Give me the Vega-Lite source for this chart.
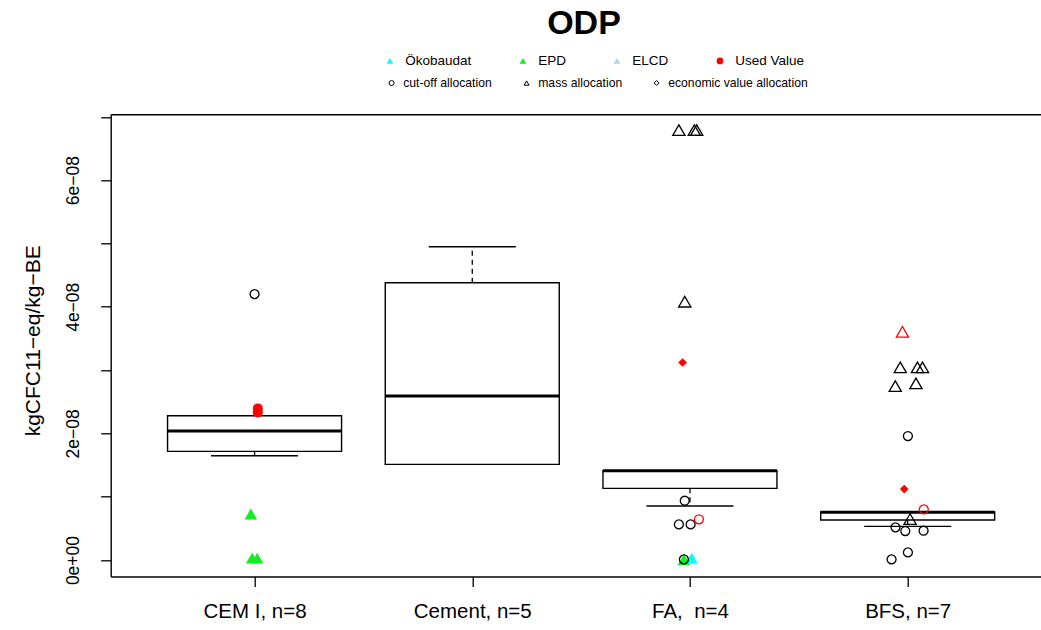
{
  "$schema": "https://vega.github.io/schema/vega-lite/v6.json",
  "width": 930.3,
  "height": 462.2,
  "autosize": {"type": "none"},
  "padding": {"left": 110.7, "top": 114.3, "right": 0, "bottom": 53.5},
  "background": "white",
  "config": {"font": "Liberation Sans", "view": {"stroke": null}},
  "datasets": {
    "boxes": [
      {"cat": "CEM I, n=8", "lower": 1.647e-8, "q1": 1.716e-8, "median": 2.037e-8, "q3": 2.278e-8, "upper": 2.278e-8},
      {"cat": "Cement, n=5", "lower": 1.511e-8, "q1": 1.511e-8, "median": 2.59e-8, "q3": 4.379e-8, "upper": 4.947e-8},
      {"cat": "FA,\u00a0 n=4", "lower": 0.853e-8, "q1": 1.132e-8, "median": 1.41e-8, "q3": 1.41e-8, "upper": 1.41e-8},
      {"cat": "BFS, n=7", "lower": 0.532e-8, "q1": 0.632e-8, "median": 0.755e-8, "q3": 0.758e-8, "upper": 0.758e-8}
    ],
    "pts": [
      {"cat": "CEM I, n=8", "value": 4.2e-8, "jitter": 0.0, "allocation": "cut-off allocation", "source": "none"},
      {"cat": "CEM I, n=8", "value": 2.395e-8, "jitter": 0.015, "allocation": "none", "source": "Used Value"},
      {"cat": "CEM I, n=8", "value": 2.33e-8, "jitter": 0.015, "allocation": "none", "source": "Used Value"},
      {"cat": "CEM I, n=8", "value": 0.726e-8, "jitter": -0.017, "allocation": "none", "source": "EPD"},
      {"cat": "CEM I, n=8", "value": 0.03e-8, "jitter": -0.011, "allocation": "none", "source": "EPD"},
      {"cat": "CEM I, n=8", "value": 0.03e-8, "jitter": 0.012, "allocation": "none", "source": "EPD"},
      {"cat": "FA,\u00a0 n=4", "value": 6.79e-8, "jitter": -0.051, "allocation": "mass allocation", "source": "none"},
      {"cat": "FA,\u00a0 n=4", "value": 6.79e-8, "jitter": 0.02, "allocation": "mass allocation", "source": "none"},
      {"cat": "FA,\u00a0 n=4", "value": 6.79e-8, "jitter": 0.031, "allocation": "mass allocation", "source": "none"},
      {"cat": "FA,\u00a0 n=4", "value": 4.08e-8, "jitter": -0.024, "allocation": "mass allocation", "source": "none"},
      {"cat": "FA,\u00a0 n=4", "value": 3.12e-8, "jitter": -0.034, "allocation": "economic value allocation", "source": "Used Value"},
      {"cat": "FA,\u00a0 n=4", "value": 0.937e-8, "jitter": -0.024, "allocation": "cut-off allocation", "source": "none"},
      {"cat": "FA,\u00a0 n=4", "value": 0.563e-8, "jitter": -0.051, "allocation": "cut-off allocation", "source": "none"},
      {"cat": "FA,\u00a0 n=4", "value": 0.563e-8, "jitter": 0.003, "allocation": "cut-off allocation", "source": "none"},
      {"cat": "FA,\u00a0 n=4", "value": 0.643e-8, "jitter": 0.041, "allocation": "cut-off allocation", "source": "Used Value"},
      {"cat": "FA,\u00a0 n=4", "value": 0.01e-8, "jitter": -0.028, "allocation": "none", "source": "EPD"},
      {"cat": "FA,\u00a0 n=4", "value": 0.01e-8, "jitter": -0.028, "allocation": "cut-off allocation", "source": "none"},
      {"cat": "FA,\u00a0 n=4", "value": 0.03e-8, "jitter": 0.008, "allocation": "none", "source": "Ökobaudat"},
      {"cat": "BFS, n=7", "value": 3.605e-8, "jitter": -0.024, "allocation": "mass allocation", "source": "Used Value"},
      {"cat": "BFS, n=7", "value": 3.043e-8, "jitter": -0.034, "allocation": "mass allocation", "source": "none"},
      {"cat": "BFS, n=7", "value": 3.043e-8, "jitter": 0.045, "allocation": "mass allocation", "source": "none"},
      {"cat": "BFS, n=7", "value": 3.043e-8, "jitter": 0.068, "allocation": "mass allocation", "source": "none"},
      {"cat": "BFS, n=7", "value": 2.747e-8, "jitter": -0.057, "allocation": "mass allocation", "source": "none"},
      {"cat": "BFS, n=7", "value": 2.79e-8, "jitter": 0.038, "allocation": "mass allocation", "source": "none"},
      {"cat": "BFS, n=7", "value": 1.958e-8, "jitter": 0.001, "allocation": "cut-off allocation", "source": "none"},
      {"cat": "BFS, n=7", "value": 1.121e-8, "jitter": -0.016, "allocation": "economic value allocation", "source": "Used Value"},
      {"cat": "BFS, n=7", "value": 0.8e-8, "jitter": 0.074, "allocation": "cut-off allocation", "source": "Used Value"},
      {"cat": "BFS, n=7", "value": 0.647e-8, "jitter": 0.011, "allocation": "mass allocation", "source": "none"},
      {"cat": "BFS, n=7", "value": 0.516e-8, "jitter": -0.056, "allocation": "cut-off allocation", "source": "none"},
      {"cat": "BFS, n=7", "value": 0.458e-8, "jitter": -0.011, "allocation": "cut-off allocation", "source": "none"},
      {"cat": "BFS, n=7", "value": 0.463e-8, "jitter": 0.073, "allocation": "cut-off allocation", "source": "none"},
      {"cat": "BFS, n=7", "value": 0.121e-8, "jitter": 0.001, "allocation": "cut-off allocation", "source": "none"},
      {"cat": "BFS, n=7", "value": 0.011e-8, "jitter": -0.074, "allocation": "cut-off allocation", "source": "none"}
    ]
  },
  "resolve": {"scale": {"shape": "independent", "color": "independent"}, "axis": {"x": "independent", "y": "independent"}},
  "layer": [
    {
      "data": {"name": "boxes"},
      "mark": {"type": "rule", "strokeDash": [5, 4], "strokeWidth": 1.3, "color": "black"},
      "encoding": {
        "x": {"field": "cat", "type": "nominal", "axis": null, "scale": {"type": "point", "domain": ["CEM I, n=8", "Cement, n=5", "FA,\u00a0 n=4", "BFS, n=7"], "padding": 0.6366, "align": 0.519}},
        "y": {"field": "q3", "type": "quantitative", "axis": null, "scale": {"domain": [-2.6e-9, 7.04e-8], "nice": false, "zero": false}},
        "y2": {"field": "upper"}
      }
    },
    {
      "data": {"name": "boxes"},
      "mark": {"type": "rule", "strokeDash": [5, 4], "strokeWidth": 1.3, "color": "black"},
      "encoding": {
        "x": {"field": "cat", "type": "nominal", "axis": null, "scale": {"type": "point", "domain": ["CEM I, n=8", "Cement, n=5", "FA,\u00a0 n=4", "BFS, n=7"], "padding": 0.6366, "align": 0.519}},
        "y": {"field": "q1", "type": "quantitative", "axis": null, "scale": {"domain": [-2.6e-9, 7.04e-8], "nice": false, "zero": false}},
        "y2": {"field": "lower"}
      }
    },
    {
      "data": {"name": "boxes"},
      "mark": {"type": "tick", "size": 87, "thickness": 1.4, "color": "black", "opacity": 1},
      "encoding": {
        "x": {"field": "cat", "type": "nominal", "axis": null, "scale": {"type": "point", "domain": ["CEM I, n=8", "Cement, n=5", "FA,\u00a0 n=4", "BFS, n=7"], "padding": 0.6366, "align": 0.519}},
        "y": {"field": "upper", "type": "quantitative", "axis": null, "scale": {"domain": [-2.6e-9, 7.04e-8], "nice": false, "zero": false}}
      }
    },
    {
      "data": {"name": "boxes"},
      "mark": {"type": "tick", "size": 87, "thickness": 1.4, "color": "black", "opacity": 1},
      "encoding": {
        "x": {"field": "cat", "type": "nominal", "axis": null, "scale": {"type": "point", "domain": ["CEM I, n=8", "Cement, n=5", "FA,\u00a0 n=4", "BFS, n=7"], "padding": 0.6366, "align": 0.519}},
        "y": {"field": "lower", "type": "quantitative", "axis": null, "scale": {"domain": [-2.6e-9, 7.04e-8], "nice": false, "zero": false}}
      }
    },
    {
      "data": {"name": "boxes"},
      "mark": {"type": "bar", "size": 174, "fill": "white", "stroke": "black", "strokeWidth": 1.4},
      "encoding": {
        "x": {"field": "cat", "type": "nominal", "scale": {"type": "point", "domain": ["CEM I, n=8", "Cement, n=5", "FA,\u00a0 n=4", "BFS, n=7"], "padding": 0.6366, "align": 0.519},
              "axis": {"orient": "bottom", "title": null, "labelAngle": 0, "labelFontSize": 20.5, "labelFont": "Liberation Sans", "labelColor": "black", "tickColor": "black", "tickSize": 10, "tickWidth": 1.3, "domainColor": "black", "domainWidth": 1.4, "labelPadding": 15, "grid": false}},
        "y": {"field": "q3", "type": "quantitative", "scale": {"domain": [-2.6e-9, 7.04e-8], "nice": false, "zero": false},
              "axis": {"orient": "left", "title": "kgCFC11−eq/kg−BE", "titleFontSize": 21, "titleFont": "Liberation Sans", "titleFontWeight": "normal", "titleColor": "black", "titleX": -77, "titleY": 226, "titleAlign": "center", "titleBaseline": "middle", "titleAngle": 270,
                       "values": [0, 1e-8, 2e-8, 3e-8, 4e-8, 5e-8, 6e-8, 7e-8],
                       "labelExpr": "datum.value < 1e-12 ? '0e+00' : (round(datum.value * 1e8) % 2 === 0 ? round(datum.value * 1e8) + 'e−08' : '')",
                       "labelAngle": 270, "labelAlign": "center", "labelBaseline": "bottom", "labelPadding": 18.5, "labelFontSize": 17.5, "labelFont": "Liberation Sans", "labelColor": "black",
                       "tickColor": "black", "tickSize": 10, "tickWidth": 1.3, "domainColor": "black", "domainWidth": 1.4, "grid": false, "labelOverlap": false}},
        "y2": {"field": "q1"}
      }
    },
    {
      "data": {"name": "boxes"},
      "mark": {"type": "tick", "size": 174, "thickness": 3, "color": "black", "opacity": 1},
      "encoding": {
        "x": {"field": "cat", "type": "nominal", "scale": {"type": "point", "domain": ["CEM I, n=8", "Cement, n=5", "FA,\u00a0 n=4", "BFS, n=7"], "padding": 0.6366, "align": 0.519},
              "axis": {"orient": "top", "title": "ODP", "titleFontSize": 34, "titleFontWeight": "bold", "titleFont": "Liberation Sans", "titleColor": "black", "titleX": 472.8, "titleY": -81.3, "titleAlign": "center", "titleBaseline": "alphabetic", "titleAngle": 0,
                       "labels": false, "ticks": false, "domainColor": "black", "domainWidth": 1.4, "grid": false}},
        "y": {"field": "median", "type": "quantitative", "axis": null, "scale": {"domain": [-2.6e-9, 7.04e-8], "nice": false, "zero": false}}
      }
    },
    {
      "data": {"name": "pts"},
      "transform": [{"filter": "datum.allocation === 'none'"}],
      "mark": {"type": "point", "filled": true, "opacity": 1, "strokeWidth": 0},
      "encoding": {
        "x": {"field": "cat", "type": "nominal", "axis": null, "scale": {"type": "point", "domain": ["CEM I, n=8", "Cement, n=5", "FA,\u00a0 n=4", "BFS, n=7"], "padding": 0.6366, "align": 0.519}},
        "xOffset": {"field": "jitter", "type": "quantitative", "scale": {"domain": [-0.1, 0.1], "range": [-21.771, 21.771], "zero": false, "nice": false}},
        "y": {"field": "value", "type": "quantitative", "axis": null, "scale": {"domain": [-2.6e-9, 7.04e-8], "nice": false, "zero": false}},
        "color": {"field": "source", "type": "nominal",
                  "scale": {"domain": ["Ökobaudat", "EPD", "ELCD", "Used Value"], "range": ["#00ffff", "#11ee22", "#add8e6", "#ff0000"]},
                  "legend": {"orient": "none", "legendX": 272.5, "legendY": -60.5, "direction": "horizontal", "title": null, "labelFontSize": 13.5, "labelFont": "Liberation Sans", "labelColor": "black", "symbolSize": 45, "labelOffset": 8.5, "columnPadding": 44, "symbolStrokeWidth": 0, "padding": 0,
                             "encode": {"symbols": {"update": {"size": {"value": 45}}}}}},
        "shape": {"field": "source", "type": "nominal",
                  "scale": {"domain": ["Ökobaudat", "EPD", "ELCD", "Used Value"], "range": ["triangle-up", "triangle-up", "triangle-up", "circle"]},
                  "legend": {"orient": "none", "legendX": 272.5, "legendY": -60.5, "direction": "horizontal", "title": null, "labelFontSize": 13.5, "labelFont": "Liberation Sans", "labelColor": "black", "symbolSize": 45, "labelOffset": 8.5, "columnPadding": 44, "symbolStrokeWidth": 0, "padding": 0,
                             "encode": {"symbols": {"update": {"size": {"value": 45}}}}}},
        "size": {"condition": {"test": "datum.source === 'Used Value'", "value": 100}, "value": 160}
      }
    },
    {
      "data": {"name": "pts"},
      "transform": [{"filter": "datum.allocation === 'cut-off allocation' || datum.allocation === 'mass allocation'"}],
      "mark": {"type": "point", "filled": false, "opacity": 1, "strokeWidth": 1.3},
      "encoding": {
        "x": {"field": "cat", "type": "nominal", "axis": null, "scale": {"type": "point", "domain": ["CEM I, n=8", "Cement, n=5", "FA,\u00a0 n=4", "BFS, n=7"], "padding": 0.6366, "align": 0.519}},
        "xOffset": {"field": "jitter", "type": "quantitative", "scale": {"domain": [-0.1, 0.1], "range": [-21.771, 21.771], "zero": false, "nice": false}},
        "y": {"field": "value", "type": "quantitative", "axis": null, "scale": {"domain": [-2.6e-9, 7.04e-8], "nice": false, "zero": false}},
        "stroke": {"field": "source", "type": "nominal", "scale": {"domain": ["Used Value", "none"], "range": ["#ff0000", "black"]}, "legend": null},
        "shape": {"field": "allocation", "type": "nominal",
                  "scale": {"domain": ["cut-off allocation", "mass allocation", "economic value allocation"], "range": ["circle", "triangle-up", "diamond"]},
                  "legend": {"orient": "none", "legendX": 274.8, "legendY": -37.7, "direction": "horizontal", "title": null, "labelFontSize": 12.2, "labelFont": "Liberation Sans", "labelColor": "black", "symbolSize": 25, "labelOffset": 5.5, "columnPadding": 28, "symbolStrokeColor": "black", "symbolStrokeWidth": 1, "padding": 0,
                             "encode": {"symbols": {"update": {"size": {"value": 25}, "stroke": {"value": "black"}, "fill": {"signal": "datum.value === 'economic value allocation' ? 'black' : 'transparent'"}}}}}},
        "size": {"condition": {"test": "datum.allocation === 'mass allocation'", "value": 150}, "value": 80}
      }
    },
    {
      "data": {"name": "pts"},
      "transform": [{"filter": "datum.allocation === 'economic value allocation'"}],
      "mark": {"type": "point", "filled": true, "opacity": 1, "shape": "diamond", "size": 75, "strokeWidth": 0},
      "encoding": {
        "x": {"field": "cat", "type": "nominal", "axis": null, "scale": {"type": "point", "domain": ["CEM I, n=8", "Cement, n=5", "FA,\u00a0 n=4", "BFS, n=7"], "padding": 0.6366, "align": 0.519}},
        "xOffset": {"field": "jitter", "type": "quantitative", "scale": {"domain": [-0.1, 0.1], "range": [-21.771, 21.771], "zero": false, "nice": false}},
        "y": {"field": "value", "type": "quantitative", "axis": null, "scale": {"domain": [-2.6e-9, 7.04e-8], "nice": false, "zero": false}},
        "fill": {"field": "source", "type": "nominal", "scale": {"domain": ["Used Value", "none"], "range": ["#ff0000", "black"]}, "legend": null}
      }
    }
  ]
}
